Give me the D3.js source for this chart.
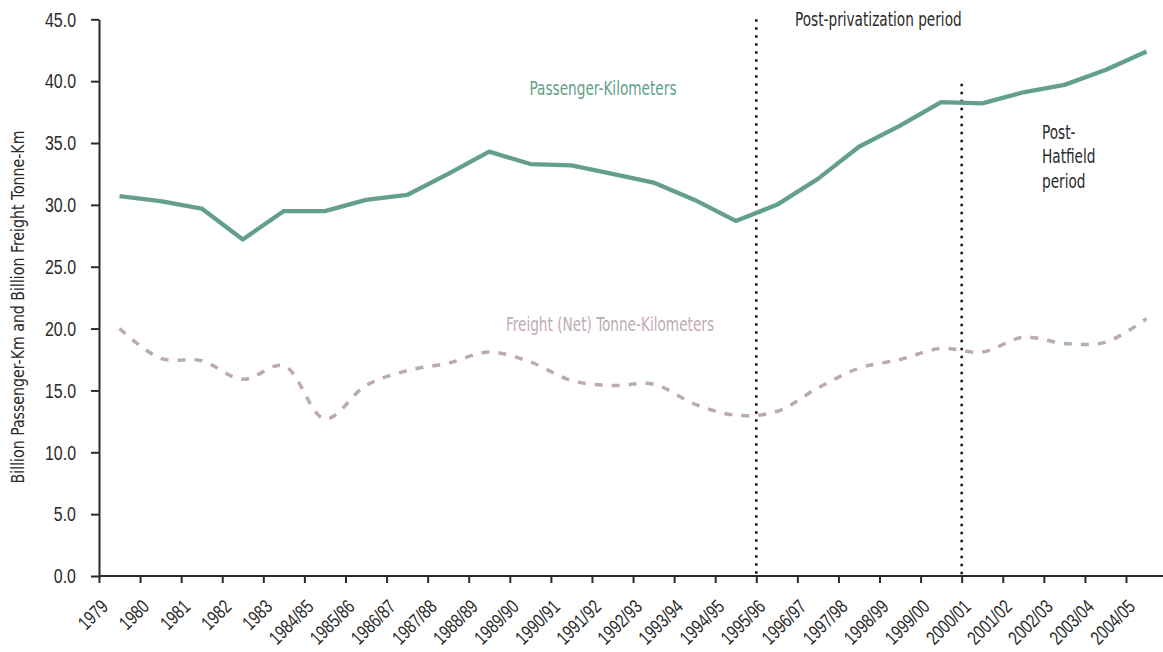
<!DOCTYPE html>
<html>
<head>
<meta charset="utf-8">
<script src="https://cdn.jsdelivr.net/npm/d3@7/dist/d3.min.js"></script>
<style>
  html, body { margin: 0; padding: 0; background: #fff; }
  svg { display: block; font-family: "Liberation Sans Narrow", "Arial Narrow", "DejaVu Sans Condensed", sans-serif; font-stretch: condensed; }
</style>
</head>
<body>
<div id="chart"></div>
<script>
// categories along the x axis (financial years)
var years = ["1979", "1980", "1981", "1982", "1983", "1984/85", "1985/86", "1986/87",
  "1987/88", "1988/89", "1989/90", "1990/91", "1991/92", "1992/93", "1993/94",
  "1994/95", "1995/96", "1996/97", "1997/98", "1998/99", "1999/00", "2000/01",
  "2001/02", "2002/03", "2003/04", "2004/05"];

// billion passenger-km
var passengerKm = [30.7, 30.3, 29.7, 27.2, 29.5, 29.5, 30.4, 30.8, 32.5, 34.3, 33.3, 33.2,
  32.5, 31.8, 30.4, 28.7, 30.0, 32.1, 34.7, 36.4, 38.3, 38.2, 39.1, 39.7, 40.9, 42.4];

// billion freight (net) tonne-km
var freightTkm = [20.0, 17.6, 17.4, 15.9, 17.0, 12.7, 15.4, 16.6, 17.2, 18.1, 17.3, 15.8,
  15.4, 15.5, 13.9, 13.0, 13.3, 15.2, 16.8, 17.5, 18.4, 18.1, 19.3, 18.8, 18.9, 20.8];

var yTicks = [0, 5, 10, 15, 20, 25, 30, 35, 40, 45];

// dotted period markers: category boundary and how high the line goes
var periodMarks = [
  { at: "1995/96", top: 45 },
  { at: "2000/01", top: 39.8 }
];

var width = 1163, height = 652;
var left = 99, axisY = 576, topY = 19.3, step = 41.08;
var squeeze = 0.8; // the original face is much narrower than what we have here

var svg = d3.select("#chart").append("svg")
  .attr("width", width)
  .attr("height", height);

var x = d3.scaleBand()
  .domain(years)
  .range([left, left + step * years.length]);

// tick positions sit on the band boundaries
var xTick = d3.scalePoint()
  .domain(years)
  .range([left, left + step * (years.length - 1)]);

var y = d3.scaleLinear()
  .domain([0, 45])
  .range([axisY, topY]);

function cx(d, i) { return x(years[i]) + x.bandwidth() / 2; }

// y axis
var yAxis = svg.append("g")
  .attr("transform", "translate(" + left + ",0)")
  .call(d3.axisLeft(y).tickValues(yTicks).tickFormat(d3.format(".1f")).tickSize(8).tickSizeOuter(0));
yAxis.select(".domain").attr("stroke", "#2a2a2a").attr("stroke-width", 2);
yAxis.selectAll(".tick line").attr("stroke", "#2a2a2a").attr("stroke-width", 2);
yAxis.selectAll(".tick text")
  .attr("x", 0)
  .attr("transform", "translate(-23,0) scale(0.76,1)")
  .attr("fill", "#2a2a2a")
  .style("font-size", "21px");

// x axis
var xAxis = svg.append("g")
  .attr("transform", "translate(0," + axisY + ")")
  .call(d3.axisBottom(xTick).tickSize(7).tickSizeOuter(0));
xAxis.select(".domain").remove();
xAxis.append("line")
  .attr("x1", left)
  .attr("x2", width)
  .attr("stroke", "#2a2a2a")
  .attr("stroke-width", 2);
xAxis.selectAll(".tick line").attr("stroke", "#2a2a2a").attr("stroke-width", 2);
xAxis.selectAll(".tick text")
  .attr("y", 0)
  .attr("dy", "0.35em")
  .attr("transform", "translate(5,27) rotate(-45) scale(0.76,1)")
  .style("text-anchor", "end")
  .attr("fill", "#2a2a2a")
  .style("font-size", "19.5px");

// axis title
svg.append("text")
  .attr("transform", "translate(24,307) rotate(-90) scale(0.9,1)")
  .style("text-anchor", "middle")
  .style("font-size", "17.5px")
  .attr("fill", "#2a2a2a")
  .text("Billion Passenger-Km and Billion Freight Tonne-Km");

// period markers
svg.selectAll(".period")
  .data(periodMarks)
  .enter().append("line")
  .attr("class", "period")
  .attr("x1", function(d) { return xTick(d.at); })
  .attr("x2", function(d) { return xTick(d.at); })
  .attr("y1", function(d) { return y(d.top); })
  .attr("y2", y(0))
  .attr("stroke", "#111")
  .attr("stroke-width", 2.5)
  .attr("stroke-dasharray", "2.5,5.5");

// freight (smoothed, dashed)
var freightLine = d3.line()
  .x(cx)
  .y(function(d) { return y(d); })
  .curve(d3.curveCatmullRom.alpha(0.5));

svg.append("path")
  .datum(freightTkm)
  .attr("fill", "none")
  .attr("stroke", "#bda9b2")
  .attr("stroke-width", 3.5)
  .attr("stroke-dasharray", "8,9")
  .attr("d", freightLine);

// passenger (straight segments)
var passengerLine = d3.line()
  .x(cx)
  .y(function(d) { return y(d); });

svg.append("path")
  .datum(passengerKm)
  .attr("fill", "none")
  .attr("stroke", "#64a088")
  .attr("stroke-width", 4.3)
  .attr("stroke-linejoin", "round")
  .attr("d", passengerLine);

// annotations
function note(px, py, anchor, color, lines) {
  var t = svg.append("text")
    .attr("transform", "translate(" + px + "," + py + ") scale(" + squeeze + ",1)")
    .style("text-anchor", anchor)
    .style("font-size", "19px")
    .attr("fill", color);
  t.selectAll("tspan")
    .data(lines)
    .enter().append("tspan")
    .attr("x", 0)
    .attr("dy", function(d, i) { return i === 0 ? 0 : 24.5; })
    .text(function(d) { return d; });
}

note(603, 95, "middle", "#64a088", ["Passenger-Kilometers"]);
note(610, 331, "middle", "#bfabb5", ["Freight (Net) Tonne-Kilometers"]);
note(795, 26, "start", "#2a2a2a", ["Post-privatization period"]);
note(1042, 139, "start", "#2a2a2a", ["Post-", "Hatfield", "period"]);
</script>
</body>
</html>
